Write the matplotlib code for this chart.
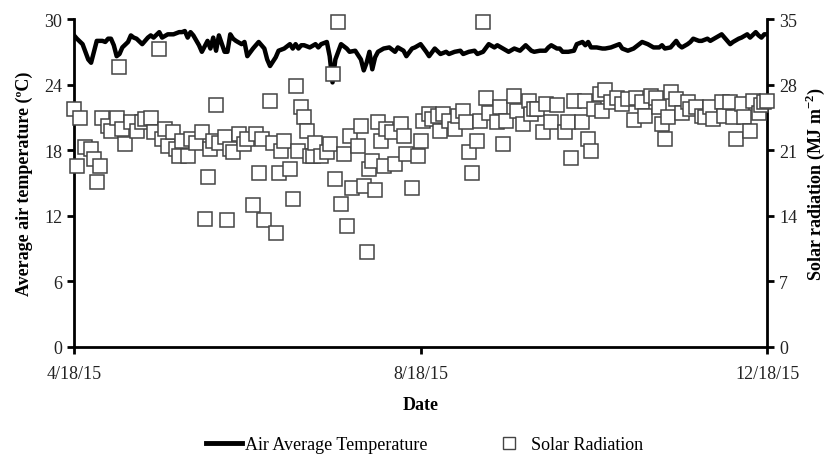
import numpy as np
import pandas as pd
import matplotlib
matplotlib.use("Agg")
import matplotlib.pyplot as plt
import matplotlib.dates as mdates
from matplotlib.lines import Line2D

plt.rcParams['font.family'] = ['Liberation Serif', 'DejaVu Serif']
plt.rcParams['mathtext.fontset'] = 'custom'
plt.rcParams['mathtext.rm'] = 'Liberation Serif'
plt.rcParams['mathtext.bf'] = 'Liberation Serif:bold'

# --- data (days after 4/18/15) ---
start_date = "2015-04-18"
tick_dates = ["2015-04-18", "2015-08-18", "2015-12-18"]
tick_labels = ["4/18/15", "8/18/15", "12/18/15"]

temp_days = [0, 1, 3, 5, 6, 7, 8, 10, 11, 12, 13, 14, 15, 16, 17, 19, 20, 21, 22, 24,
             26, 27, 28, 30, 31, 33, 35, 37, 38, 39, 40, 41, 42, 44, 45, 47, 48, 49, 50, 51,
             53, 54, 55, 56, 57, 59, 60, 61, 63, 65, 67, 68, 69, 71, 72, 74, 76, 77, 78, 79,
             80, 81, 83, 85, 86, 87, 89, 90, 91, 92, 94, 96, 97, 99, 101, 102, 103, 104, 105, 106,
             107, 109, 111, 113, 114, 116, 117, 119, 120, 122, 124, 125, 127, 129, 131, 132, 134, 136, 137, 139,
             141, 142, 144, 146, 148, 149, 151, 153, 155, 157, 159, 161, 162, 164, 166, 167, 168, 170, 171, 172,
             174, 176, 177, 179, 180, 181, 182, 184, 186, 187, 189, 192, 193, 195, 197, 199, 200, 202, 204, 206,
             207, 208, 210, 211, 212, 213, 214, 216, 217, 218, 220, 221, 223, 224, 226, 228, 229, 231, 232, 234,
             235, 237, 238, 240, 241, 242, 243, 244]
temp_vals = [28.5, 28.2, 27.7, 26.3, 26.0, 27.0, 28.0, 28.0, 27.9, 28.2, 28.2, 27.6, 26.6, 26.8, 27.4, 27.9, 28.5, 28.3, 28.2, 27.7,
             28.3, 28.5, 28.3, 28.8, 28.3, 28.6, 28.6, 28.8, 28.8, 28.9, 28.3, 28.8, 28.5, 27.6, 27.0, 28.0, 27.3, 28.3, 27.1, 28.5,
             27.0, 27.0, 28.6, 28.2, 28.0, 27.7, 27.9, 26.6, 27.3, 27.9, 27.3, 26.3, 25.7, 26.5, 27.1, 27.3, 27.7, 27.3, 27.7, 27.3,
             27.6, 27.6, 27.4, 27.7, 27.4, 27.7, 27.9, 26.6, 24.2, 26.3, 27.7, 27.3, 27.0, 27.1, 26.3, 25.3, 26.0, 27.0, 25.4, 26.5,
             27.0, 27.3, 27.4, 27.0, 27.4, 27.1, 26.6, 27.3, 27.4, 27.7, 27.0, 26.6, 27.3, 26.8, 27.0, 26.8, 27.0, 27.1, 26.8, 27.0,
             27.1, 26.8, 27.0, 27.7, 27.4, 27.6, 27.3, 27.0, 27.3, 27.1, 27.6, 27.1, 27.0, 27.1, 27.1, 27.4, 27.6, 27.3, 27.3, 27.0,
             27.0, 27.1, 27.7, 27.9, 27.6, 27.9, 27.4, 27.4, 27.3, 27.3, 27.4, 27.7, 27.3, 27.1, 27.3, 27.7, 27.9, 27.7, 27.4, 27.4,
             27.6, 27.3, 27.4, 27.7, 28.0, 27.6, 27.4, 27.7, 27.9, 28.2, 28.0, 28.0, 28.2, 28.0, 28.3, 28.6, 28.3, 27.7, 27.9, 28.2,
             28.3, 28.6, 28.3, 28.8, 28.5, 28.3, 28.6, 28.6]

solar_days = [0, 1, 2, 4, 6, 7, 8, 9, 10, 12, 13, 15, 16, 17, 18, 20, 22, 24, 25, 27,
              28, 30, 31, 32, 33, 35, 36, 37, 38, 40, 41, 43, 45, 46, 47, 48, 49, 50, 51, 53,
              54, 55, 56, 58, 60, 61, 63, 64, 65, 66, 67, 69, 70, 71, 72, 73, 74, 76, 77, 78,
              79, 80, 81, 82, 83, 84, 85, 87, 89, 90, 91, 92, 93, 94, 95, 96, 97, 98, 100, 101,
              102, 103, 104, 105, 106, 107, 108, 109, 110, 112, 113, 115, 116, 117, 119, 121, 122, 123, 125, 126,
              128, 129, 130, 132, 134, 135, 137, 138, 139, 140, 142, 143, 144, 145, 146, 149, 150, 151, 152, 155,
              156, 158, 160, 161, 162, 163, 165, 166, 168, 170, 173, 174, 175, 176, 179, 180, 181, 182, 183, 185,
              186, 187, 189, 191, 193, 195, 197, 198, 200, 201, 203, 205, 206, 207, 208, 209, 210, 212, 214, 216,
              217, 219, 221, 222, 224, 225, 228, 229, 231, 232, 233, 235, 236, 238, 239, 241, 242, 243, 244]
solar_vals = [25.4, 19.3, 24.4, 21.3, 21.1, 20.1, 17.6, 19.3, 24.4, 23.6, 23.1, 24.4, 29.9, 23.3, 21.7, 24.0, 23.1, 24.0, 24.3, 24.4,
              22.9, 31.8, 22.2, 23.3, 21.5, 22.9, 21.1, 20.4, 22.0, 20.4, 22.2, 21.8, 22.9, 13.7, 18.1, 21.1, 22.0, 25.8, 21.8, 22.4,
              13.5, 21.1, 20.8, 22.7, 21.7, 22.2, 15.1, 22.7, 18.6, 22.2, 13.5, 26.3, 21.8, 12.2, 18.6, 20.9, 22.0, 19.0, 15.8, 27.8,
              20.9, 25.6, 24.5, 23.1, 20.4, 20.4, 21.8, 20.4, 20.8, 21.7, 29.1, 17.9, 34.7, 15.3, 20.6, 12.9, 22.5, 17.0, 21.5, 23.6,
              17.2, 10.1, 19.0, 19.9, 16.7, 24.0, 22.0, 19.3, 23.3, 22.9, 19.5, 23.8, 22.5, 20.6, 17.0, 20.4, 22.0, 24.1, 24.9, 24.3,
              24.7, 23.1, 24.9, 24.1, 23.3, 24.7, 25.2, 24.0, 20.8, 18.6, 22.0, 24.1, 34.7, 26.6, 25.0, 24.0, 25.6, 21.7, 24.1, 26.8,
              25.2, 23.8, 26.3, 24.9, 25.4, 25.4, 22.9, 25.9, 24.0, 25.8, 22.9, 24.0, 20.2, 26.3, 24.0, 26.3, 22.2, 20.9, 25.4, 27.0,
              25.2, 27.4, 26.1, 26.6, 25.9, 26.5, 24.2, 26.6, 26.1, 24.7, 26.8, 26.6, 25.6, 23.8, 22.2, 24.5, 27.2, 26.5, 25.0, 26.1,
              25.4, 25.6, 24.7, 24.5, 25.6, 24.3, 26.1, 24.7, 26.1, 24.5, 22.2, 25.9, 24.5, 23.1, 26.3, 25.0, 25.8, 26.1, 26.2]

t0 = pd.Timestamp(start_date)
temp_dates = t0 + pd.to_timedelta(temp_days, unit="D")
solar_dates = t0 + pd.to_timedelta(solar_days, unit="D")
ticks = pd.to_datetime(tick_dates)

fig = plt.figure(figsize=(8.32, 4.6), dpi=100)
ax = fig.add_axes([0.089, 0.2435, 0.833, 0.713])
ax2 = ax.twinx()

ax.plot(temp_dates, temp_vals, color="black", lw=3.2, solid_joinstyle="round", zorder=2)
ax2.plot(solar_dates, solar_vals, ls="none", marker="s", ms=10, mfc="white",
         mec="#444444", mew=1.1, zorder=3, clip_on=False)

ax.set_xlim(ticks[0], ticks[-1])
ax.set_ylim(0, 30)
ax.set_yticks([0, 6, 12, 18, 24, 30])
ax2.set_ylim(0, 35)
ax2.set_yticks([0, 7, 14, 21, 28, 35])
ax.set_xticks(ticks)
ax.set_xticklabels(tick_labels)

for a in (ax, ax2):
    a.spines["top"].set_visible(False)
    for s in a.spines.values():
        s.set_linewidth(2)
    a.tick_params(direction="out", length=5, width=2, labelsize=13, colors="black", labelcolor="#222222")
ax.spines["right"].set_visible(False)
ax2.spines["left"].set_visible(False)
ax2.spines["bottom"].set_visible(False)
ax.tick_params(axis="x", pad=8)

ax.set_xlabel("Date", fontsize=13, fontweight="bold", labelpad=10)
ax.set_ylabel("Average air temperature (ºC)", fontsize=13, fontweight="bold", labelpad=8)
ax2.set_ylabel("Solar radiation (MJ m$^{\\mathbf{-2}}$)", fontsize=13, fontweight="bold", labelpad=5)

handles = [
    Line2D([], [], color="black", lw=3.5),
    Line2D([], [], ls="none", marker="s", ms=8, mfc="white", mec="#444444", mew=1),
]
fig.legend(handles, ["Air Average Temperature", "Solar Radiation"], loc="lower center",
           bbox_to_anchor=(0.51, -0.022), ncol=2, frameon=False, fontsize=13,
           handlelength=2.0, handletextpad=0.2, columnspacing=3.5)

fig.savefig("out.png", dpi=100)
